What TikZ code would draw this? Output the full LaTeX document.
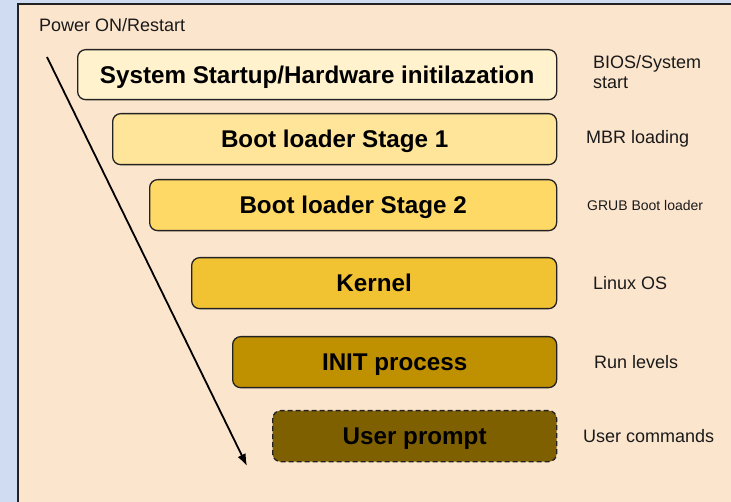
\documentclass[tikz,border=0pt]{standalone}
\usepackage{fontspec}
\setmainfont{Liberation Sans}
\usetikzlibrary{arrows.meta}
\definecolor{outerbg}{HTML}{D0DCF2}
\definecolor{panel}{HTML}{FCE5CD}
\definecolor{cA}{HTML}{FFF2CC}
\definecolor{cB}{HTML}{FFE599}
\definecolor{cC}{HTML}{FFD966}
\definecolor{cD}{HTML}{F1C232}
\definecolor{cE}{HTML}{BF9000}
\definecolor{cF}{HTML}{7F6000}
\definecolor{edge}{HTML}{222222}
\definecolor{txt}{HTML}{1A1A1A}
\tikzset{
  stagebox/.style={draw=edge, line width=1.3pt, rounded corners=8pt, anchor=north west,
    minimum height=50pt, inner sep=0pt, text depth=0pt, font=\fontsize{24.2}{28}\selectfont\bfseries, text=black},
  sidelabel/.style={anchor=west, inner sep=0pt, font=\fontsize{18}{21}\selectfont, text=txt, align=left},
}
\begin{document}
\begin{tikzpicture}[x=1pt,y=-1pt]
\useasboundingbox (0,0) rectangle (731,502);
\fill[outerbg] (0,0) rectangle (731,502);
\draw[fill=panel, draw=edge, line width=1.2pt] (18,4) rectangle (740,510);
\node[sidelabel] (power) at (39,25) {Power ON/Restart};
\node[stagebox, fill=cA, minimum width=479pt] (s1) at (77,49) {System Startup/Hardware initilazation};
\node[stagebox, fill=cB, minimum width=444pt, minimum height=51pt] (s2) at (112,113) {Boot loader Stage 1};
\node[stagebox, fill=cC, minimum width=407pt, minimum height=51pt] (s3) at (149,179) {Boot loader Stage 2};
\node[stagebox, fill=cD, minimum width=365pt, minimum height=51pt] (s4) at (191,257) {Kernel};
\node[stagebox, fill=cE, minimum width=324pt, minimum height=51pt] (s5) at (232,336) {INIT process};
\node[stagebox, fill=cF, dash pattern=on 5pt off 3pt, minimum width=284pt, minimum height=51pt] (s6) at (272,410) {User prompt};
\node[sidelabel] (l1) at (593,72) {BIOS/System\\[-1pt]start};
\node[sidelabel] (l2) at (586,139) {MBR loading};
\node[sidelabel, font=\fontsize{14}{16}\selectfont] (l3) at (587,205) {GRUB Boot loader};
\node[sidelabel] (l4) at (593,283) {Linux OS};
\node[sidelabel] (l5) at (594,362) {Run levels};
\node[sidelabel] (l6) at (583,436) {User commands};
\coordinate (pstart) at (47,57);
\coordinate (pend) at (247,466);
\draw[line width=1.8pt, -{Latex[length=12pt,width=9pt]}] (pstart) -- (pend);
\end{tikzpicture}
\end{document}
